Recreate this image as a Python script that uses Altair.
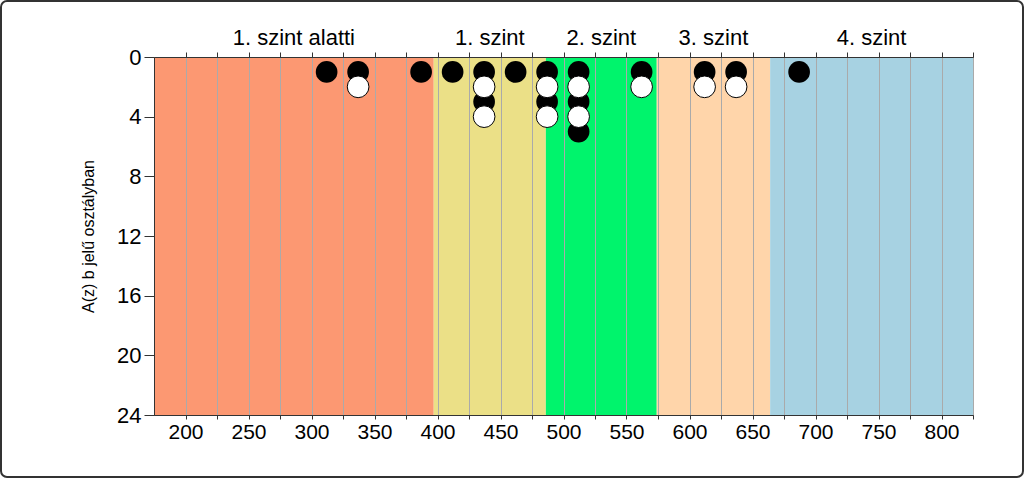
import altair as alt
import pandas as pd

# Level bands
band_names = ["1. szint alatti", "1. szint", "2. szint", "3. szint", "4. szint"]
band_start = [175, 397, 486, 574, 664]
band_end = [397, 486, 574, 664, 825]
band_colors = ["#FC9872", "#EBE087", "#00F46C", "#FFD5AA", "#A7D2E2"]

# Points (black = odd rows, white = even rows)
black_x = [312, 337, 387, 412, 437, 437, 462, 487, 487, 512, 512, 512, 562, 612, 637, 687]
black_y = [1, 1, 1, 1, 1, 3, 1, 1, 3, 1, 3, 5, 1, 1, 1, 1]
white_x = [337, 437, 437, 487, 487, 512, 512, 562, 612, 637]
white_y = [2, 2, 4, 2, 4, 2, 4, 2, 2, 2]

x_ticks = list(range(200, 826, 25))
y_ticks = [0, 4, 8, 12, 16, 20, 24]

FONT = "Liberation Sans"
W, H = 819, 358

bands = pd.DataFrame({
    "name": band_names, "start": band_start, "end": band_end,
    "mid": [(a + b) / 2 for a, b in zip(band_start, band_end)],
})
black = pd.DataFrame({"x": black_x, "y": black_y})
white = pd.DataFrame({"x": white_x, "y": white_y})

xscale = alt.Scale(domain=[175, 825], nice=False, zero=False)
yscale = alt.Scale(domain=[0, 24], reverse=True, nice=False)

y_enc = alt.Y("y:Q", scale=yscale, title="A(z) b jelű osztályban",
              axis=alt.Axis(values=y_ticks, grid=False, domainColor="#333", tickColor="#333",
                            tickSize=10, labelFont=FONT, labelFontSize=22, labelColor="#000",
                            titleFont=FONT, titleFontSize=16, titleFontWeight="normal",
                            titleColor="#000", titlePadding=20, labelPadding=3, zindex=1))

rects = alt.Chart(bands).mark_rect().encode(
    x=alt.X("start:Q", scale=xscale, title=None,
            axis=alt.Axis(values=x_ticks, labelExpr="datum.value % 50 == 0 ? datum.label : ''",
                          grid=True, gridColor="#aaaaaa", gridWidth=1, zindex=1,
                          domain=True, domainColor="#333", tickColor="#333", tickSize=4,
                          labelFont=FONT, labelFontSize=21, labelColor="#000", labelPadding=2,
                          labelFlush=False)),
    x2="end:Q",
    y=alt.value(0), y2=alt.value(H),
    color=alt.Color("name:N", scale=alt.Scale(domain=band_names, range=band_colors), legend=None),
)

black_pts = alt.Chart(black).mark_circle(size=470, color="#000", opacity=1).encode(
    x=alt.X("x:Q", scale=xscale, title=None,
            axis=alt.Axis(orient="top", values=x_ticks, labels=False, grid=False,
                          domainColor="#333", tickColor="#333", tickSize=5, zindex=1)),
    y=y_enc,
)
white_pts = alt.Chart(white).mark_circle(size=470, fill="#fff", stroke="#000",
                                         strokeWidth=1, opacity=1, fillOpacity=1).encode(
    x=alt.X("x:Q", scale=xscale, axis=None),
    y=y_enc,
)

labels = alt.Chart(bands).mark_text(font=FONT, fontSize=22, color="#000", baseline="middle").encode(
    x=alt.X("mid:Q", scale=xscale, axis=None),
    y=alt.value(-19),
    text="name:N",
)

frame = alt.Chart(bands.head(1)).mark_rect(fill=None, stroke="#333", strokeWidth=2,
                                            cornerRadius=6).encode(
    x=alt.value(-153), x2=alt.value(W + 50), y=alt.value(-56), y2=alt.value(H + 62),
)

chart = alt.layer(rects, black_pts, white_pts, labels, frame).resolve_axis(
    x="independent"
).properties(
    width=W, height=H,
    autosize=alt.AutoSizeParams(type="none"),
    padding={"left": 154, "top": 57, "right": 51, "bottom": 63},
    background="#ffffff",
).configure_view(stroke="#444", strokeWidth=1)

chart.save("out.html", embed_options={"renderer": "svg", "actions": False})
